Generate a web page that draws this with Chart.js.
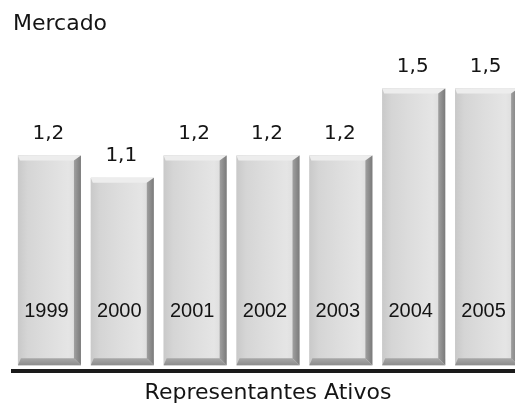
<!DOCTYPE html>
<html>
<head>
<meta charset="utf-8">
<script src="https://cdn.jsdelivr.net/npm/chart.js@4/dist/chart.umd.min.js"></script>
<style>
  html, body { margin: 0; padding: 0; background: #fff; overflow: hidden; }
  #grafico { display: block; width: 524px; height: 403px; }
</style>
</head>
<body>
<canvas id="grafico" width="524" height="403"></canvas>
<script>
let anos = ['1999', '2000', '2001', '2002', '2003', '2004', '2005'];
let valores = [1.2, 1.1, 1.2, 1.2, 1.2, 1.5, 1.5];

// base das barras um pouco acima da linha do eixo
let yMin = 0.233;
let yBase = 0.26;
let yMax = 1.628;

function virgula(v) {
    return v.toFixed(1).replace('.', ',');
}

// relevo das barras + rotulos (valor em cima, ano dentro da barra)
let barras3d = {
    id: 'barras3d',
    afterDatasetsDraw(chart) {
        let ctx = chart.ctx;
        let meta = chart.getDatasetMeta(0);
        meta.data.forEach((bar, i) => {
            let p = bar.getProps(['x', 'y', 'base', 'width'], true);
            let L = p.x - p.width / 2, R = p.x + p.width / 2;
            let T = p.y, B = p.base;
            let b = 7;
            ctx.save();

            // face
            let g = ctx.createLinearGradient(L, 0, R, 0);
            g.addColorStop(0, '#c9c9c9');
            g.addColorStop(0.15, '#d5d5d5');
            g.addColorStop(0.45, '#dddddd');
            g.addColorStop(0.8, '#e5e5e5');
            g.addColorStop(1, '#d8d8d8');
            ctx.fillStyle = g;
            ctx.fillRect(L, T, R - L, B - T);

            // topo claro
            ctx.fillStyle = '#ededed';
            ctx.beginPath();
            ctx.moveTo(L, T);
            ctx.lineTo(R, T);
            ctx.lineTo(R - b, T + 5);
            ctx.lineTo(L + 2, T + 5);
            ctx.closePath();
            ctx.fill();

            // lado direito escuro
            let gr = ctx.createLinearGradient(R - b, 0, R, 0);
            gr.addColorStop(0, '#a0a0a0');
            gr.addColorStop(1, '#7a7a7a');
            ctx.fillStyle = gr;
            ctx.beginPath();
            ctx.moveTo(R, T);
            ctx.lineTo(R, B);
            ctx.lineTo(R - b, B - b);
            ctx.lineTo(R - b, T + 5);
            ctx.closePath();
            ctx.fill();

            // base escura
            let gb = ctx.createLinearGradient(0, B - b, 0, B);
            gb.addColorStop(0, '#a8a8a8');
            gb.addColorStop(1, '#8c8c8c');
            ctx.fillStyle = gb;
            ctx.beginPath();
            ctx.moveTo(L, B);
            ctx.lineTo(R, B);
            ctx.lineTo(R - b, B - b);
            ctx.lineTo(L + 3, B - b);
            ctx.closePath();
            ctx.fill();

            // textos
            ctx.fillStyle = '#141414';
            ctx.textAlign = 'center';
            ctx.textBaseline = 'alphabetic';
            ctx.font = '20px "DejaVu Sans"';
            ctx.fillText(virgula(valores[i]), p.x - 1, T - 17);
            ctx.font = '20px "Liberation Sans"';
            ctx.fillText(chart.data.labels[i], p.x - 3, B - 48);
            ctx.restore();
        });
    }
};

let grafico = new Chart(document.getElementById('grafico').getContext('2d'), {
    type: 'bar',
    data: {
        labels: anos,
        datasets: [{
            data: valores,
            base: yBase,
            backgroundColor: '#d8d8d8',
            borderWidth: 0,
            barPercentage: 0.865,
            categoryPercentage: 1
        }]
    },
    options: {
        responsive: false,
        animation: false,
        layout: {
            padding: { left: 13, right: 1, top: 0, bottom: 0 }
        },
        plugins: {
            legend: { display: false },
            tooltip: { enabled: false },
            title: {
                display: true,
                text: 'Mercado',
                align: 'start',
                color: '#141414',
                font: { family: 'DejaVu Sans', size: 22, weight: 'normal', lineHeight: 1 },
                padding: { top: 13, bottom: 25 }
            }
        },
        scales: {
            x: {
                grid: { display: false, drawTicks: false },
                ticks: { display: false },
                border: { display: true, color: '#1a1a1a', width: 4 },
                title: {
                    display: true,
                    text: 'Representantes Ativos',
                    color: '#141414',
                    font: { family: 'DejaVu Sans', size: 22, lineHeight: 0.85 },
                    padding: { top: 13, bottom: 0 }
                }
            },
            y: {
                display: false,
                min: yMin,
                max: yMax
            }
        }
    },
    plugins: [barras3d]
});
</script>
</body>
</html>
